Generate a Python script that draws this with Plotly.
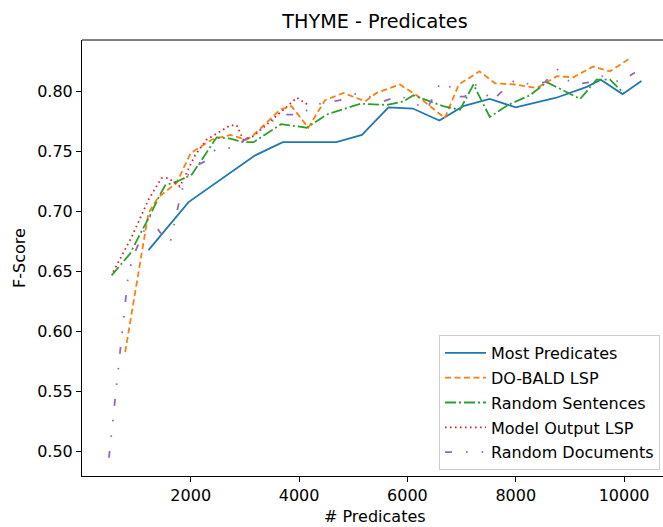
import plotly.graph_objects as go

# ---- data ----
most_pred_x = [1220, 1960, 3190, 3700, 4690, 5160, 5650, 6100, 6590, 7030, 7520, 8000, 8750, 9310, 9570, 9970, 10320]
most_pred_y = [0.668, 0.708, 0.747, 0.758, 0.758, 0.764, 0.787, 0.786, 0.776, 0.788, 0.794, 0.787, 0.795, 0.804, 0.810, 0.798, 0.809]

dobald_x = [790, 1220, 1400, 1740, 2000, 2390, 2730, 3030, 3160, 3650, 3860, 4170, 4480, 4820, 5220,
            5430, 5860, 6170, 6690, 6950, 7330, 7620, 7990, 8390, 8760, 9060, 9430, 9740, 10080]
dobald_y = [0.583, 0.699, 0.712, 0.724, 0.749, 0.760, 0.764, 0.760, 0.764, 0.785, 0.788, 0.770, 0.793, 0.799, 0.792,
            0.799, 0.806, 0.797, 0.778, 0.806, 0.817, 0.807, 0.806, 0.803, 0.813, 0.812, 0.821, 0.817, 0.827]

randsent_x = [540, 880, 1060, 1250, 1430, 1530, 1740, 2020, 2480, 2730, 2970, 3160, 3670, 4140, 4510,
              5130, 5620, 5930, 6110, 6660, 6970, 7220, 7520, 7860, 8260, 8570, 9190, 9490, 9740, 9990]
randsent_y = [0.647, 0.665, 0.681, 0.697, 0.714, 0.722, 0.725, 0.731, 0.762, 0.761, 0.758, 0.758, 0.773, 0.770, 0.781,
              0.790, 0.789, 0.792, 0.797, 0.788, 0.785, 0.806, 0.779, 0.789, 0.797, 0.808, 0.794, 0.810, 0.810, 0.799]

modelout_x = [570, 910, 1220, 1460, 1590, 1800, 2080, 2290, 2730, 2850, 2970, 3160, 3960, 4170]
modelout_y = [0.650, 0.679, 0.710, 0.728, 0.728, 0.721, 0.747, 0.760, 0.772, 0.772, 0.760, 0.763, 0.795, 0.789]

randdoc_x = [490, 700, 850, 950, 1250, 1430, 1620, 1740, 1800, 1890, 2020, 2260, 2480, 2790, 3030, 3280, 3520,
             3770, 4050, 4260, 4760, 5090, 5560, 5860, 6360, 6600, 6720, 6910, 7060, 7250, 7400, 7560, 7740,
             7990, 8260, 8540, 8760, 8910, 9090, 9370, 9590, 9920, 10200]
randdoc_y = [0.495, 0.585, 0.649, 0.664, 0.696, 0.683, 0.674, 0.699, 0.711, 0.726, 0.736, 0.742, 0.753, 0.753, 0.761, 0.768, 0.776,
             0.781, 0.781, 0.789, 0.793, 0.799, 0.792, 0.797, 0.785, 0.807, 0.808, 0.796, 0.796, 0.806, 0.801, 0.792, 0.800,
             0.810, 0.806, 0.808, 0.819, 0.811, 0.806, 0.808, 0.813, 0.808, 0.816]

x_ticks = [2000, 4000, 6000, 8000, 10000]
x_tick_labels = ["2000", "4000", "6000", "8000", "10000"]
y_ticks = [0.50, 0.55, 0.60, 0.65, 0.70, 0.75, 0.80]
y_tick_labels = ["0.50", "0.55", "0.60", "0.65", "0.70", "0.75", "0.80"]

series = [
    ("Most Predicates", most_pred_x, most_pred_y, "#1f77b4", "solid"),
    ("DO-BALD LSP", dobald_x, dobald_y, "#ff7f0e", "6px,3.5px"),
    ("Random Sentences", randsent_x, randsent_y, "#2ca02c", "11px,3px,2px,3px"),
    ("Model Output LSP", modelout_x, modelout_y, "#d62728", "1.6px,3.4px"),
    ("Random Documents", randdoc_x, randdoc_y, "#9467bd", "7px,14px,1.6px,14px,1.6px,14px"),
]

FONT = "DejaVu Sans"
FS = 16
fig = go.Figure()
for i, (name, xs, ys, col, dash) in enumerate(series):
    fig.add_trace(go.Scatter(x=xs, y=ys, mode="lines", name=name, legendgroup=str(i),
                             line=dict(color=col, width=1.8, dash=dash)))

W, H = 663, 527
L, R, T, B = 82, 0, 40, 51
PW, PH = W - L - R, H - T - B
fig.update_layout(
    width=W, height=H,
    margin=dict(l=L, r=R, t=T, b=B),
    paper_bgcolor="white", plot_bgcolor="white",
    font=dict(family=FONT, size=FS, color="black"),
    title=dict(text="THYME - Predicates", x=375 / W, xref="container", xanchor="center",
               y=1 - 21 / H, yref="container", yanchor="middle",
               font=dict(family=FONT, size=19.2, color="black")),
    showlegend=True,
    legend=dict(x=(660 - L) / PW, xanchor="right", y=(H - B - 470) / PH,
                yanchor="bottom", bgcolor="rgba(255,255,255,0.8)", bordercolor="#cccccc", borderwidth=1,
                font=dict(family=FONT, size=FS, color="black"), tracegroupgap=1, itemwidth=41),
    xaxis=dict(range=[-7, 10718], tickvals=x_ticks, ticktext=x_tick_labels, ticks="outside", ticklen=5,
               tickcolor="black", showgrid=False, zeroline=False, showline=True, linecolor="black",
               linewidth=1, mirror=False, tickfont=dict(family=FONT, size=FS, color="black")),
    yaxis=dict(range=[0.4798, 0.8431], tickvals=y_ticks, ticktext=y_tick_labels, ticks="outside", ticklen=5,
               tickcolor="black", showgrid=False, zeroline=False, showline=True, linecolor="black",
               linewidth=1, mirror=False, tickfont=dict(family=FONT, size=FS, color="black")),
    shapes=[dict(type="line", xref="paper", yref="paper", x0=0, x1=1, y0=1, y1=1,
                 line=dict(color="black", width=1))],
    annotations=[
        dict(text="# Predicates", xref="paper", yref="paper", x=(375 - L) / PW,
             y=-(516.7 - (H - B)) / PH, xanchor="center", yanchor="middle", showarrow=False,
             font=dict(family=FONT, size=FS, color="black")),
        dict(text="F-Score", xref="paper", yref="paper", x=-(L - 19) / PW, y=0.5,
             xanchor="center", yanchor="middle", textangle=-90, showarrow=False,
             font=dict(family=FONT, size=FS, color="black")),
    ],
)
fig.write_html("out.html")
